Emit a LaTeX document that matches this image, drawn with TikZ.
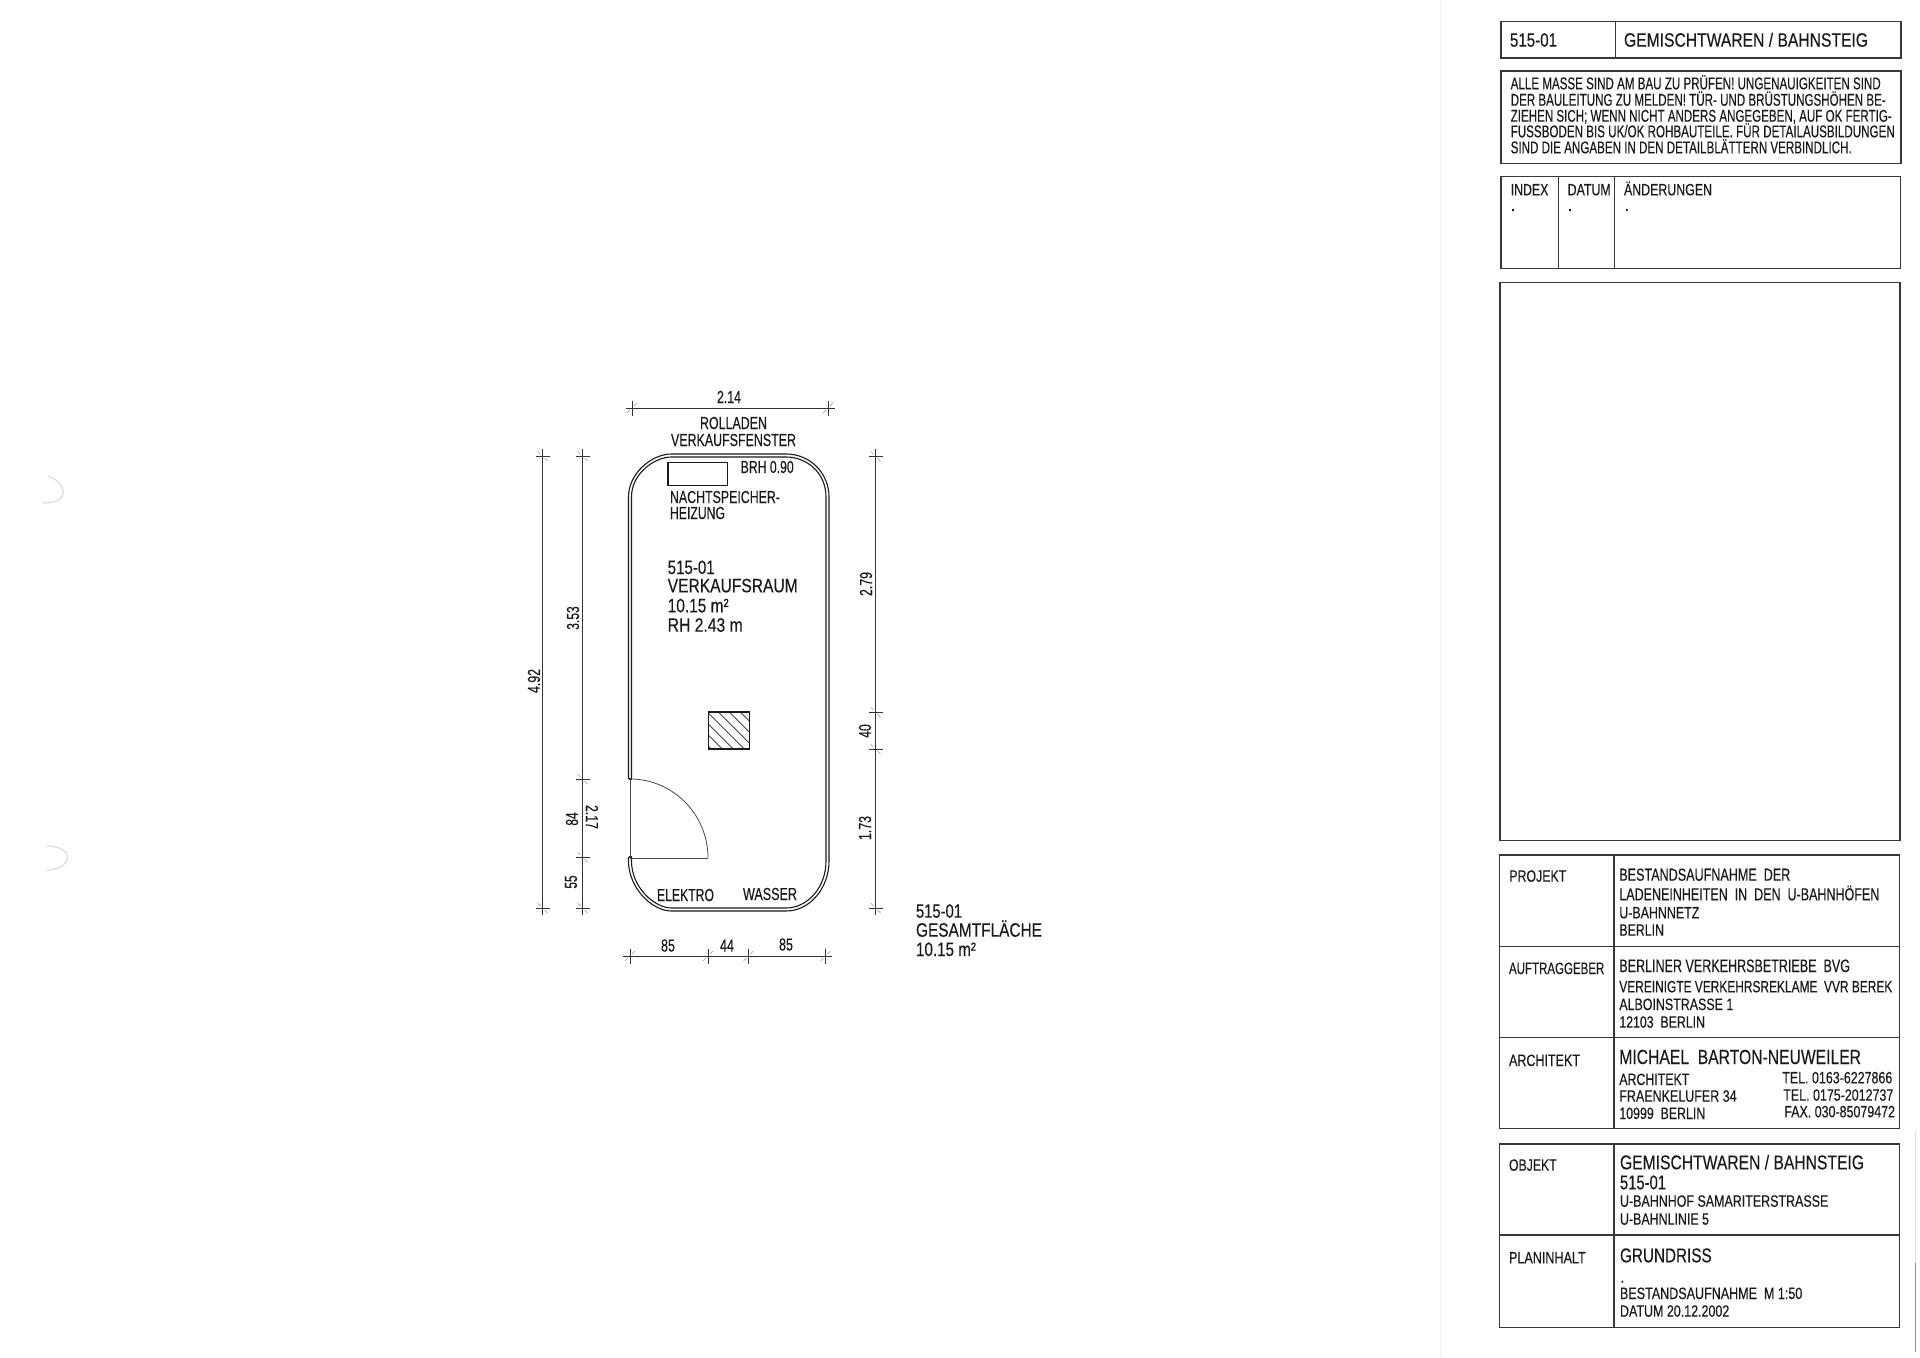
\documentclass[tikz,border=0pt]{standalone}
\usepackage{fontspec}
\usepackage{graphicx}
\setmainfont[FakeBold=0.3]{Liberation Sans}
\newlength\pxu \setlength\pxu{0.5pt}
\newcommand\fitw[2]{\resizebox{#1\pxu}{\height}{#2}}
\definecolor{ink}{HTML}{1A1A1A}
\tikzset{
  fs/.style={font=\fontsize{#1}{#1}\selectfont},
  T/.style={anchor=base west,inner sep=0pt,outer sep=0pt,text=ink},
  R/.style={anchor=center,inner sep=0pt,outer sep=0pt,text=ink,rotate=90},
  RR/.style={anchor=center,inner sep=0pt,outer sep=0pt,text=ink,rotate=-90},
  C/.style={anchor=base,inner sep=0pt,outer sep=0pt,text=ink},
  frame/.style={draw=black!78,line width=0.55pt},
  wall/.style={draw=ink,line width=0.55pt},
  thin line/.style={draw=black!72,line width=0.4pt},
  dimline/.style={draw=black!80,line width=0.42pt},
  slash/.style={draw=black!40,line width=0.3pt},
  faint/.style={draw=black!14,line width=0.6pt}
}
% room wall outline, inset #1
\newcommand\roomwall[1]{%
  \draw[wall] (628.5+#1,779) -- (628.5+#1,497)
    .. controls (628.5+#1,473) and (652+#1,454+#1) .. (671.5,454+#1)
    -- (786,454+#1)
    .. controls (810-#1,454+#1) and (829-#1,473) .. (829-#1,497)
    -- (829-#1,861)
    .. controls (829-#1,888) and (810-#1,911-#1) .. (786,911-#1)
    -- (671.5,911-#1)
    .. controls (652+#1,911-#1) and (628.5+#1,888) .. (628.5+#1,861)
    -- (628.5+#1,857);
}
% tick on a vertical dimension line
\newcommand\vtick[2]{%
  \draw[dimline] (#1-7,#2) -- (#1+7,#2);
  \draw[slash] (#1-5,#2-5) -- (#1-2,#2-2) (#1+2,#2+2) -- (#1+5,#2+5);
}
% tick on a horizontal dimension line
\newcommand\htick[2]{%
  \draw[dimline] (#1,#2-7.5) -- (#1,#2+7.5);
  \draw[slash] (#1-5,#2+5) -- (#1-2,#2+2) (#1+2,#2-2) -- (#1+5,#2-5);
}
\begin{document}
\begin{tikzpicture}[x=0.5pt,y=-0.5pt]
\useasboundingbox[fill=white] (0,0) rectangle (1920,1358);

% scan traces
\draw[faint] (48,476) .. controls (60,480) and (68,492) .. (60,499) .. controls (56,502) and (50,503) .. (43,503);
\draw[faint] (47,846) .. controls (60,846) and (70,852) .. (67,860) .. controls (65,866) and (56,870) .. (47,870);
\draw[draw=black!3,line width=1pt] (1441,0) -- (1441,1358);
\draw[draw=black!12,line width=0.5pt] (1915,1130) -- (1915,1263);
\draw[draw=black!45,line width=0.5pt] (1915,1263) -- (1915,1352);

% room
\roomwall{0}
\roomwall{3}
\draw[wall] (628.5,779) -- (631.5,779);
\draw[wall] (628.5,857) -- (631.5,857);
\draw[thin line,line width=0.5pt] (630,779) -- (630,857.5);
\draw[thin line] (630,858.5) -- (708,858.5);
\draw[thin line] (630,779) .. controls (673,779) and (708,814.4) .. (708,858);
\draw[wall] (668,462.3) rectangle (727.7,485.3);

% column with hatching
\begin{scope}
  \clip (708.5,712) rectangle (749.5,749);
  \foreach \k in {-5,...,2} {
    \draw[thin line] ({729.3+11*\k},712) -- ({729.3+11*\k+45},757);
  }
\end{scope}
\draw[draw=ink,line width=0.85pt] (708.5,712) rectangle (749.5,749);

% dimension lines
\draw[dimline] (626,408) -- (835,408);
\htick{632}{408}\htick{828}{408}
\draw[dimline] (542.5,449) -- (542.5,915);
\vtick{542.5}{456}\vtick{542.5}{908}
\draw[dimline] (582.5,449) -- (582.5,915);
\vtick{582.5}{456}\vtick{582.5}{779}\vtick{582.5}{857}\vtick{582.5}{908}
\draw[dimline] (875.5,449) -- (875.5,915);
\vtick{875.5}{456}\vtick{875.5}{712}\vtick{875.5}{749}\vtick{875.5}{908}
\draw[dimline] (623,956) -- (832,956);
\htick{630}{956}\htick{708}{956}\htick{748.5}{956}\htick{825.5}{956}

% dimension labels
\node[C,fs=8.7] (d214) at (729,403) {\fitw{24}{2.14}};
\node[R,fs=8.7] (d492) at (534,681) {\fitw{24}{4.92}};
\node[R,fs=8.7] (d353) at (573,618) {\fitw{23.5}{3.53}};
\node[R,fs=8.7] (d84) at (572,819) {\fitw{13.3}{84}};
\node[RR,fs=8.7] (d217) at (592,817) {\fitw{24}{2.17}};
\node[R,fs=8.7] (d55) at (571,882) {\fitw{13.3}{55}};
\node[R,fs=8.7] (d279) at (866,584) {\fitw{24}{2.79}};
\node[R,fs=8.7] (d40) at (865,731) {\fitw{13.5}{40}};
\node[R,fs=8.7] (d173) at (865,828) {\fitw{24}{1.73}};
\node[C,fs=8.7] (d85a) at (668,951.5) {\fitw{14}{85}};
\node[C,fs=8.7] (d44) at (727,951.5) {\fitw{14}{44}};
\node[C,fs=8.7] (d85b) at (786,950.5) {\fitw{14}{85}};

% plan labels
\node[T,fs=8.7] (rolladen) at (700,429) {\fitw{67}{ROLLADEN}};
\node[T,fs=8.7] (vkf) at (671,446) {\fitw{125}{VERKAUFSFENSTER}};
\node[T,fs=8.7] (brh) at (740.7,473) {\fitw{53}{BRH 0.90}};
\node[T,fs=8.7] (nsp) at (670,503) {\fitw{110}{NACHTSPEICHER-}};
\node[T,fs=8.7] (hzg) at (670,519) {\fitw{55}{HEIZUNG}};
\node[T,fs=9.7] (r1) at (667.7,574) {\fitw{47}{515-01}};
\node[T,fs=9.7] (r2) at (667.7,592.3) {\fitw{130}{VERKAUFSRAUM}};
\node[T,fs=9.7] (r3) at (667.7,612.3) {\fitw{61}{10.15 m²}};
\node[T,fs=9.7] (r4) at (667.7,631.7) {\fitw{75}{RH 2.43 m}};
\node[T,fs=8.7] (elektro) at (657,901) {\fitw{57}{ELEKTRO}};
\node[T,fs=8.7] (wasser) at (743,900) {\fitw{54}{WASSER}};
\node[T,fs=9.7] (g1) at (916,917.7) {\fitw{46}{515-01}};
\node[T,fs=9.7] (g2) at (916,936.7) {\fitw{126}{GESAMTFLÄCHE}};
\node[T,fs=9.7] (g3) at (916,956) {\fitw{60}{10.15 m²}};

% title block frames
\draw[frame] (1501,21.5) rectangle (1901,58);
\draw[frame] (1615.7,21.5) -- (1615.7,58);
\draw[frame] (1501,71) rectangle (1901,163.7);
\draw[frame] (1501,176.7) rectangle (1900.5,268.3);
\draw[frame] (1558.3,176.7) -- (1558.3,268.3);
\draw[frame] (1614.7,176.7) -- (1614.7,268.3);
\draw[frame] (1500,282.3) rectangle (1900,840.7);
\draw[frame] (1499.5,855) rectangle (1899.5,1128.3);
\draw[frame] (1614,855) -- (1614,1128.3);
\draw[frame] (1499.5,946.7) -- (1899.5,946.7);
\draw[frame] (1499.5,1037.7) -- (1899.5,1037.7);
\draw[frame] (1499.5,1144) rectangle (1899.5,1327.3);
\draw[frame] (1614,1144) -- (1614,1327.3);
\draw[frame] (1499.5,1235) -- (1899.5,1235);

% title block text
\node[T,fs=9.7] (t1) at (1510,46.7) {\fitw{47}{515-01}};
\node[T,fs=9.7] (t2) at (1624,46.7) {\fitw{244}{GEMISCHTWAREN / BAHNSTEIG}};
\node[T,fs=8.5] (n1) at (1510.7,89.3) {\fitw{370}{ALLE MASSE SIND AM BAU ZU PRÜFEN! UNGENAUIGKEITEN SIND}};
\node[T,fs=8.5] (n2) at (1510.7,105.7) {\fitw{375}{DER BAULEITUNG ZU MELDEN! TÜR- UND BRÜSTUNGSHÖHEN BE-}};
\node[T,fs=8.5] (n3) at (1510.7,121.7) {\fitw{381}{ZIEHEN SICH; WENN NICHT ANDERS ANGEGEBEN, AUF OK FERTIG-}};
\node[T,fs=8.5] (n4) at (1510.7,137.3) {\fitw{384}{FUSSBODEN BIS UK/OK ROHBAUTEILE. FÜR DETAILAUSBILDUNGEN}};
\node[T,fs=8.5] (n5) at (1510.7,153.3) {\fitw{341}{SIND DIE ANGABEN IN DEN DETAILBLÄTTERN VERBINDLICH.}};
\node[T,fs=8.2] (i1) at (1510.7,195.3) {\fitw{37.7}{INDEX}};
\node[T,fs=8.2] (i2) at (1567.7,195.3) {\fitw{43}{DATUM}};
\node[T,fs=8.2] (i3) at (1624,195.3) {\fitw{88}{ÄNDERUNGEN}};
\node[T,fs=8.2] (i4) at (1510.7,211) {.};
\node[T,fs=8.2] (i5) at (1567.7,211) {.};
\node[T,fs=8.2] (i6) at (1624.5,211) {.};

\node[T,fs=8.2] (p0) at (1509.3,881.7) {\fitw{57}{PROJEKT}};
\node[T,fs=8.7] (p1) at (1619.3,880.7) {\fitw{171}{BESTANDSAUFNAHME~~DER}};
\node[T,fs=8.7] (p2) at (1619.3,900.3) {\fitw{260}{LADENEINHEITEN~~IN~~DEN~~U-BAHNHÖFEN}};
\node[T,fs=8.2] (p3) at (1619.3,918.3) {\fitw{80}{U-BAHNNETZ}};
\node[T,fs=8.2] (p4) at (1619.3,935.7) {\fitw{44.7}{BERLIN}};

\node[T,fs=8.2] (a0) at (1509,974) {\fitw{95.3}{AUFTRAGGEBER}};
\node[T,fs=9] (a1) at (1619.3,972) {\fitw{230.7}{BERLINER VERKEHRSBETRIEBE~~BVG}};
\node[T,fs=8.2] (a2) at (1619.3,992.3) {\fitw{273}{VEREINIGTE VERKEHRSREKLAME~~VVR BEREK}};
\node[T,fs=8.2] (a3) at (1619.3,1010) {\fitw{114}{ALBOINSTRASSE 1}};
\node[T,fs=8.2] (a4) at (1619.3,1027.7) {\fitw{85.7}{12103~~BERLIN}};

\node[T,fs=8.2] (b0) at (1509,1066) {\fitw{71}{ARCHITEKT}};
\node[T,fs=10.2] (b1) at (1619.3,1064) {\fitw{241.7}{MICHAEL~~BARTON-NEUWEILER}};
\node[T,fs=8.2] (b2) at (1619.3,1085) {\fitw{70}{ARCHITEKT}};
\node[T,fs=8.2] (b3) at (1619.3,1101.7) {\fitw{117.3}{FRAENKELUFER 34}};
\node[T,fs=8.2] (b4) at (1619.3,1119) {\fitw{86}{10999~~BERLIN}};
\node[T,fs=8.2] (b5) at (1782.3,1083.3) {\fitw{110}{TEL. 0163-6227866}};
\node[T,fs=8.2] (b6) at (1783.3,1100.7) {\fitw{110}{TEL. 0175-2012737}};
\node[T,fs=8.2] (b7) at (1784.3,1117.3) {\fitw{110.7}{FAX. 030-85079472}};

\node[T,fs=8.2] (o0) at (1509,1170.7) {\fitw{47.7}{OBJEKT}};
\node[T,fs=10] (o1) at (1620,1169.3) {\fitw{244}{GEMISCHTWAREN / BAHNSTEIG}};
\node[T,fs=10] (o2) at (1620,1189.3) {\fitw{46}{515-01}};
\node[T,fs=8.2] (o3) at (1620,1206.7) {\fitw{208.3}{U-BAHNHOF SAMARITERSTRASSE}};
\node[T,fs=8.2] (o4) at (1620,1224.7) {\fitw{89}{U-BAHNLINIE 5}};

\node[T,fs=8.2] (q0) at (1509,1263.3) {\fitw{76.7}{PLANINHALT}};
\node[T,fs=10] (q1) at (1620,1262.3) {\fitw{91.7}{GRUNDRISS}};
\node[T,fs=8.2] (q2) at (1620,1282.7) {.};
\node[T,fs=8.2] (q3) at (1620,1299) {\fitw{182.3}{BESTANDSAUFNAHME~~M 1:50}};
\node[T,fs=8.2] (q4) at (1620,1316.7) {\fitw{109.3}{DATUM 20.12.2002}};
\end{tikzpicture}
\end{document}
